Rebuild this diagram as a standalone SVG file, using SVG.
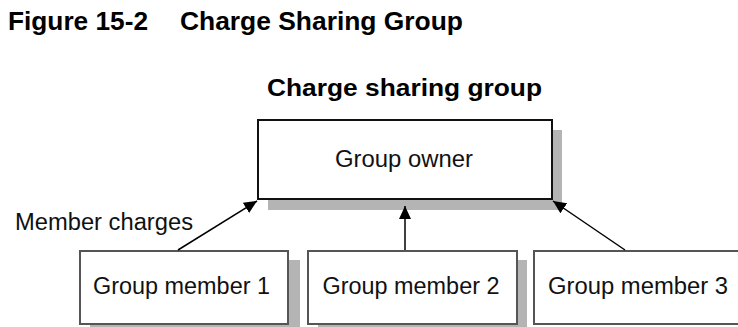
<svg xmlns="http://www.w3.org/2000/svg" width="738" height="327" viewBox="0 0 738 327">
<defs>
<marker id="arr" markerUnits="userSpaceOnUse" markerWidth="14" markerHeight="12" refX="13" refY="6" orient="auto">
<path d="M0,0 L13,6 L0,12 Z" fill="#000"/>
</marker>
</defs>
<style>
.cap{font-family:"Liberation Sans",Arial,sans-serif;font-weight:bold;font-size:25px;fill:#000}
.title{font-family:"Liberation Sans",Arial,sans-serif;font-weight:bold;font-size:23px;fill:#000}
.lbl{font-family:"Liberation Sans",Arial,sans-serif;font-size:23.5px;fill:#111}
.box{fill:#fff;stroke:#555;stroke-width:2}
.obox{fill:#fff;stroke:#111;stroke-width:2}
.shadow{fill:#b4b4b4}
.conn{stroke:#000;stroke-width:1.5;fill:none}
</style>
<rect width="738" height="327" fill="#fff"/>
<text class="cap" x="8" y="30" textLength="140" lengthAdjust="spacingAndGlyphs">Figure 15-2</text>
<text class="cap" x="180" y="30" textLength="283" lengthAdjust="spacingAndGlyphs">Charge Sharing Group</text>
<text class="title" x="267" y="96" textLength="275" lengthAdjust="spacingAndGlyphs">Charge sharing group</text>
<g id="owner">
<rect class="shadow" x="268" y="130" width="294" height="80"/>
<rect class="obox" x="258" y="120" width="294" height="79"/>
<text class="lbl" x="404" y="167" text-anchor="middle" textLength="138" lengthAdjust="spacingAndGlyphs">Group owner</text>
</g>
<g id="member1">
<rect class="shadow" x="90" y="260" width="210" height="70"/>
<rect class="box" x="80" y="251" width="208" height="73"/>
<text class="lbl" x="181.5" y="294" text-anchor="middle" textLength="177" lengthAdjust="spacingAndGlyphs">Group member 1</text>
</g>
<g id="member2">
<rect class="shadow" x="318" y="260" width="209" height="70"/>
<rect class="box" x="308" y="251" width="209" height="73"/>
<text class="lbl" x="411" y="294" text-anchor="middle" textLength="177" lengthAdjust="spacingAndGlyphs">Group member 2</text>
</g>
<g id="member3">
<rect class="box" x="534" y="251" width="215" height="73"/>
<text class="lbl" x="638" y="294" text-anchor="middle" textLength="180" lengthAdjust="spacingAndGlyphs">Group member 3</text>
</g>
<text class="lbl" x="15" y="230" textLength="178" lengthAdjust="spacingAndGlyphs">Member charges</text>
<g id="connectors">
<line class="conn" x1="178" y1="250" x2="257" y2="201" marker-end="url(#arr)"/>
<line class="conn" x1="405" y1="250" x2="405" y2="206" marker-end="url(#arr)"/>
<line class="conn" x1="625" y1="250" x2="553" y2="201" marker-end="url(#arr)"/>
</g>
</svg>
